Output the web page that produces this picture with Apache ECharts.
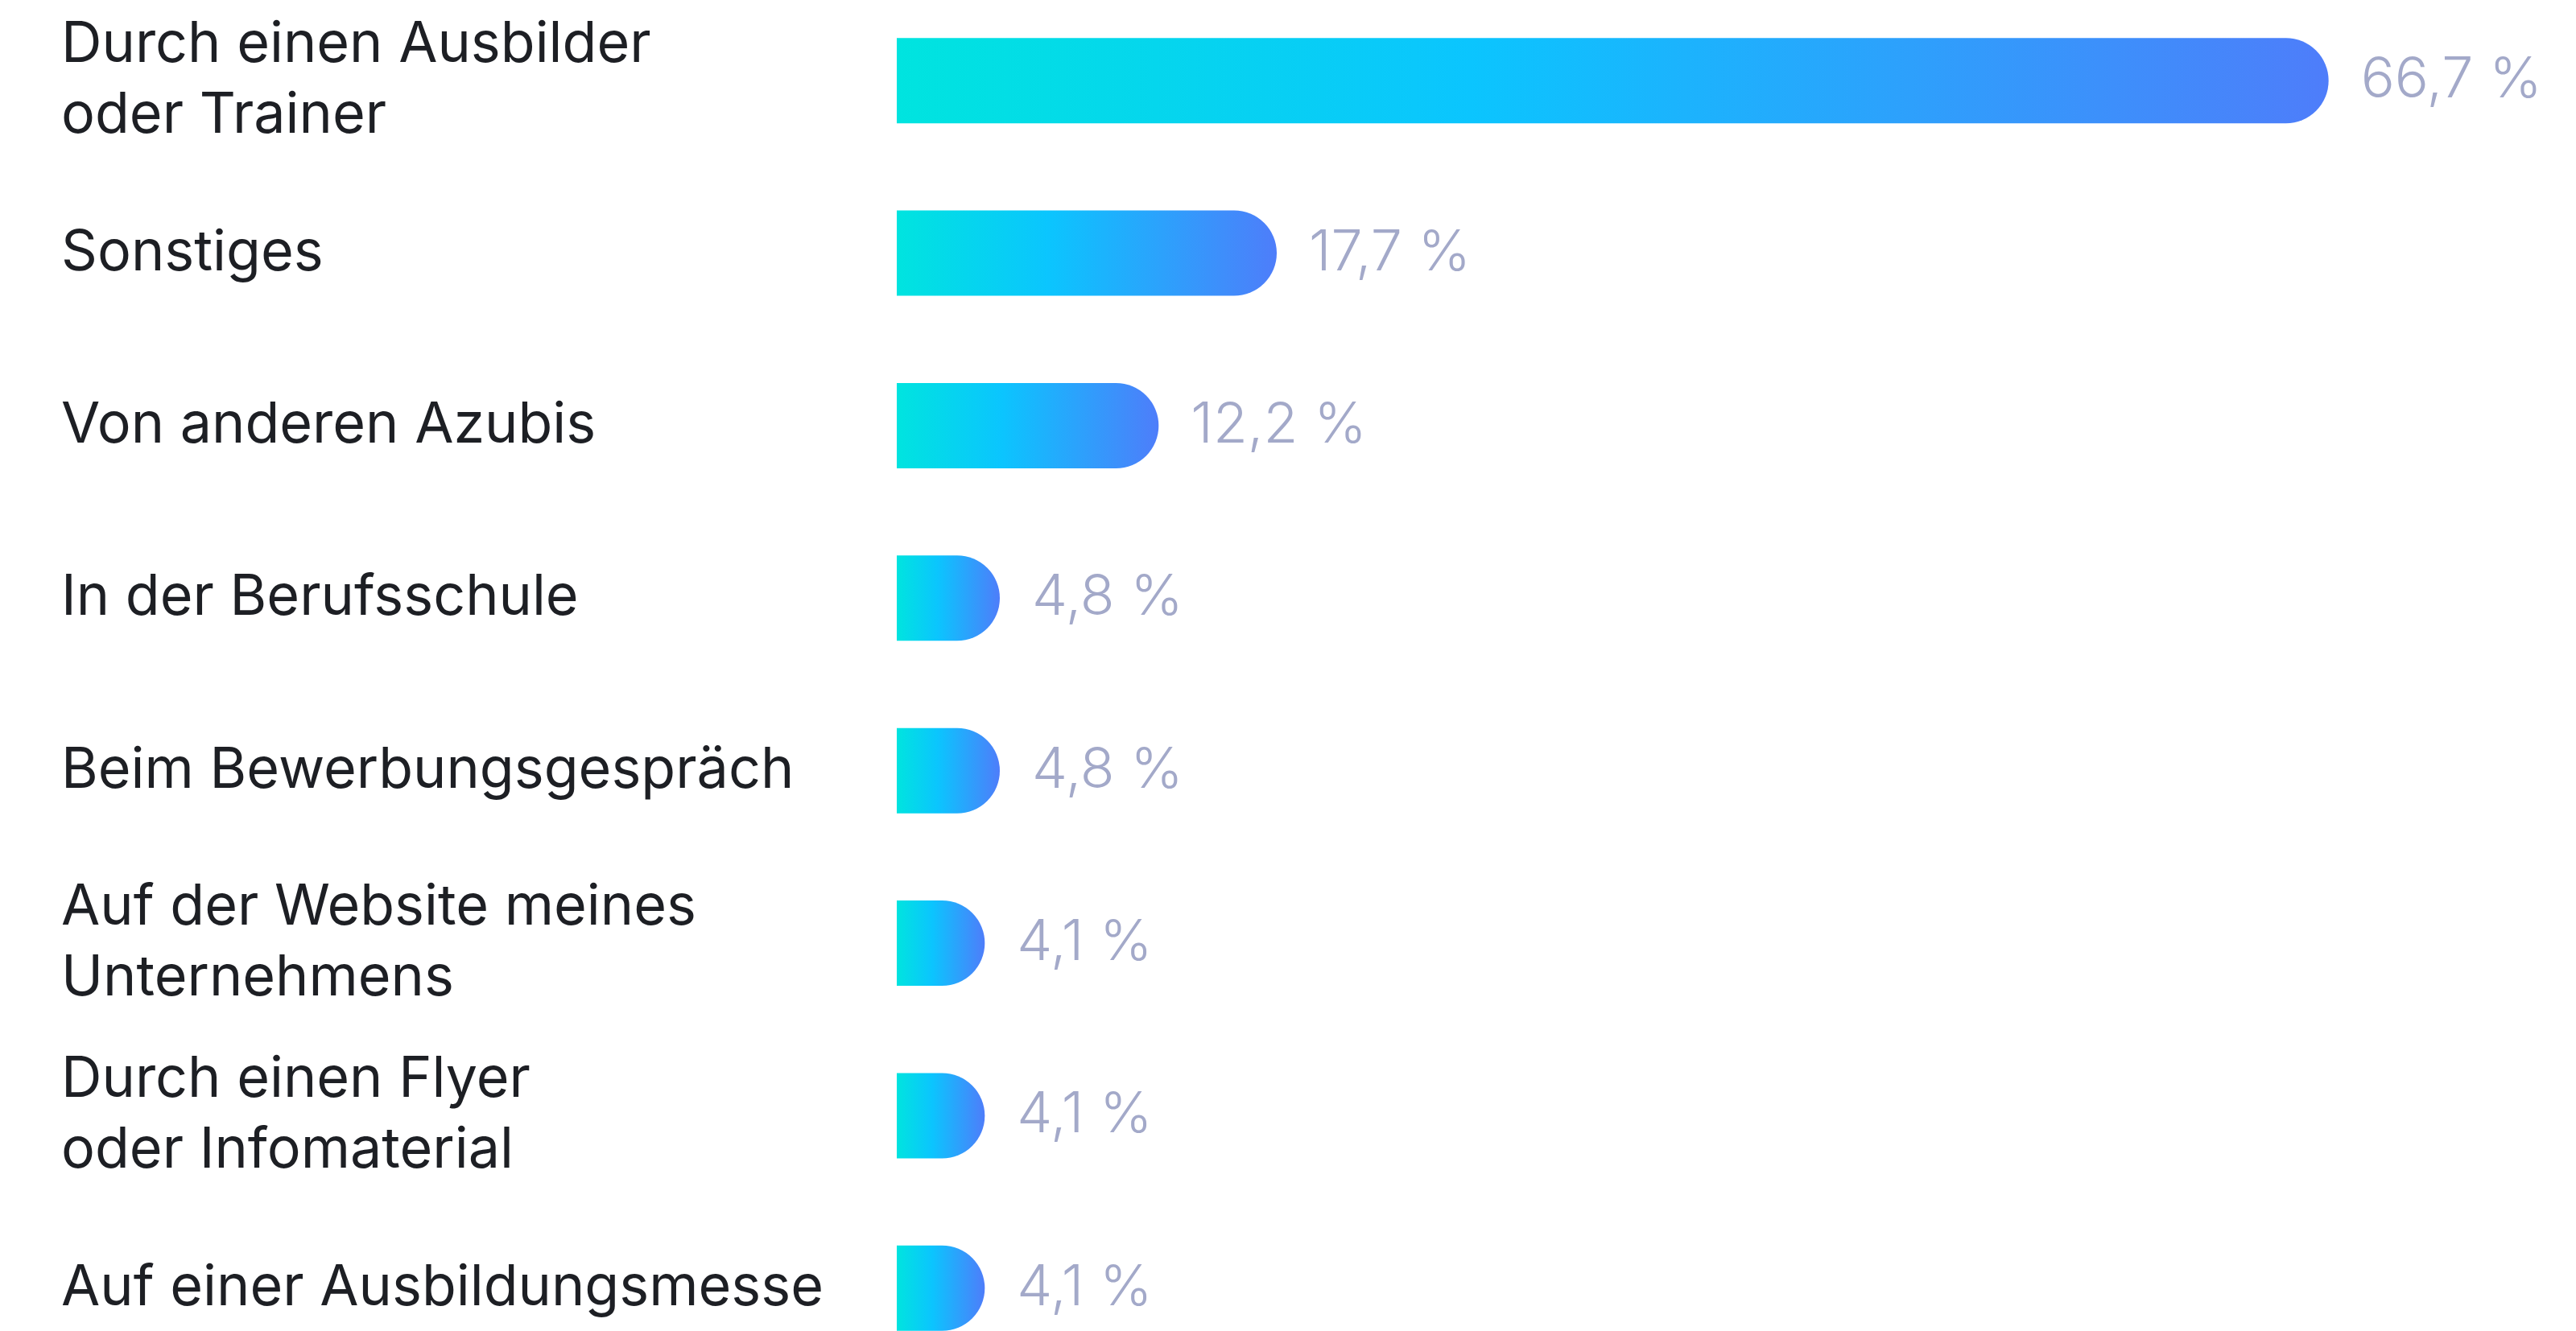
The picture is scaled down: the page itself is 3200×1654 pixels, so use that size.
<!DOCTYPE html>
<html>
<head>
<meta charset="utf-8">
<script src="https://cdn.jsdelivr.net/npm/echarts@6/dist/echarts.min.js"></script>
<style>
html,body{margin:0;padding:0;background:#ffffff;overflow:hidden;width:3200px;height:1654px;position:relative;}
#chart{position:absolute;left:0;top:-7px;width:3200px;height:1715px;}
</style>
</head>
<body>
<div id="chart"></div>
<script>
const categories = [
  "Durch einen Ausbilder\noder Trainer",
  "Sonstiges",
  "Von anderen Azubis",
  "In der Berufsschule",
  "Beim Bewerbungsgespräch",
  "Auf der Website meines\nUnternehmens",
  "Durch einen Flyer\noder Infomaterial",
  "Auf einer Ausbildungsmesse"
];
const values = [66.7, 17.7, 12.2, 4.8, 4.8, 4.1, 4.1, 4.1];

const chart = echarts.init(document.getElementById('chart'), null, {renderer: 'canvas'});
const grad = new echarts.graphic.LinearGradient(0, 0, 1, 0, [
  {offset: 0, color: '#00E4DF'},
  {offset: 0.4, color: '#0BC5FE'},
  {offset: 1, color: '#4E7DFA'}
]);
chart.setOption({
  backgroundColor: '#ffffff',
  animation: false,
  grid: {left: 1114, top: 0, width: 2000, height: 1715, containLabel: false},
  xAxis: {
    type: 'value', min: 0, max: 75,
    show: false
  },
  yAxis: {
    type: 'category',
    inverse: true,
    data: categories,
    axisLine: {show: false},
    axisTick: {show: false},
    splitLine: {show: false},
    axisLabel: {
      align: 'left',
      margin: 1038,
      fontFamily: 'Inter',
      fontSize: 70,
      lineHeight: 88,
      color: '#1d1f24'
    }
  },
  series: [{
    type: 'bar',
    data: values,
    barWidth: 106,
    itemStyle: {color: grad, borderRadius: [0, 53, 53, 0]},
    label: {
      show: true,
      position: 'right',
      distance: 40,
      fontFamily: 'Inter',
      fontSize: 70,
      fontWeight: 300,
      color: '#A3A9C9',
      formatter: p => String(p.value).replace('.', ',') + ' %'
    }
  }]
});
</script>
</body>
</html>
